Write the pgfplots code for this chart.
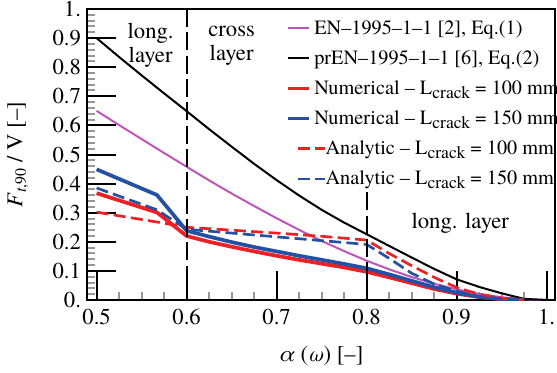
\documentclass[border=0pt]{standalone}
\usepackage{fontspec}
\setmainfont{texgyretermes}[Extension=.otf, UprightFont=*-regular, ItalicFont=*-italic, BoldFont=*-bold, BoldItalicFont=*-bolditalic, Ligatures=TeX]
\usepackage{pgfplots}
\pgfplotsset{compat=1.18}

\definecolor{numred}{RGB}{237,32,36}
\definecolor{numblue}{RGB}{36,80,165}
\definecolor{enmag}{RGB}{190,85,185}
\definecolor{tickgray}{RGB}{150,150,150}

\newcommand{\Lc}{L\raisebox{-0.45ex}{\fontsize{13.2}{13.2}\selectfont crack}}

% legend sample for the dashed series, set a little to the right
\pgfplotsset{dashleg/.style={legend image code/.code={\draw[##1, overlay] (0.26cm,0cm) -- (0.98cm,0cm);}}}

\begin{document}
\begin{tikzpicture}
\begin{axis}[
  scale only axis,
  width=351pt, height=218.25pt,
  xmin=0.4893, xmax=1.0093,
  ymin=0, ymax=1,
  axis line style={black, line width=1.6pt},
  xtick={0.5,0.6,0.7,0.8,0.9,1.0},
  xticklabels={0.5,0.6,0.7,0.8,0.9,1.},
  ytick={0,0.1,0.2,0.3,0.4,0.5,0.6,0.7,0.8,0.9,1.0},
  yticklabels={0.,0.1,0.2,0.3,0.4,0.5,0.6,0.7,0.8,0.9,1.},
  minor x tick num=3, minor y tick num=4,
  tick align=inside,
  xtick pos=left, ytick pos=left,
  major tick length=21.5pt,
  minor tick length=6pt,
  major tick style={black, line width=1.5pt},
  minor tick style={tickgray, line width=1.5pt},
  /pgf/number format/assume math mode=true,
  tick label style={font=\fontsize{17}{17}\selectfont},
  xticklabel style={yshift=-3pt},
  yticklabel style={xshift=-1pt},
  xlabel={\textit{α} (\textit{ω}) [--]},
  ylabel={\textit{F}\textsubscript{\textit{t},90} / V [--]},
  label style={font=\fontsize{17}{17}\selectfont},
  xlabel style={at={(axis description cs:0.5,0)}, anchor=center, yshift=-42pt},
  ylabel style={at={(axis description cs:0,0.5)}, anchor=center, rotate=0, yshift=52pt},
  legend cell align=left,
  legend style={at={(axis cs:0.7105,0.972)}, anchor=north west, draw=none, fill=none,
    font=\fontsize{15.2}{15.2}\selectfont, row sep=6.7pt, inner sep=0pt,
    nodes={inner xsep=2.5pt}},
  legend image code/.code={\draw[#1] (0cm,0cm) -- (0.55cm,0cm);},
]

% EN 1995-1-1, Eq.(1)
\addplot[enmag, line width=1.5pt] coordinates {
(0.5,0.650) (0.525,0.601) (0.55,0.553) (0.575,0.505) (0.6,0.458)
(0.625,0.411) (0.65,0.366) (0.675,0.323) (0.7,0.281) (0.725,0.241)
(0.75,0.203) (0.775,0.168) (0.8,0.135) (0.825,0.1055) (0.85,0.079)
(0.875,0.056) (0.9,0.0364) (0.925,0.021) (0.95,0.0094) (0.975,0.0023) (1.0,0)
};
\addlegendentry{EN--1995--1--1 [2], Eq.(1)}

% prEN 1995-1-1, Eq.(2)
\addplot[black, line width=1.5pt] coordinates {
(0.5,0.900) (0.525,0.835) (0.55,0.772) (0.575,0.710) (0.6,0.649)
(0.625,0.587) (0.65,0.527) (0.675,0.468) (0.7,0.412) (0.725,0.359)
(0.75,0.310) (0.775,0.266) (0.8,0.226) (0.825,0.186) (0.85,0.146)
(0.875,0.107) (0.9,0.071) (0.925,0.045) (0.95,0.023) (0.975,0.004) (1.0,0)
};
\addlegendentry{prEN--1995--1--1 [6], Eq.(2)}

% Numerical, L_crack = 100 mm
\addplot[numred, line width=2.8pt] coordinates {
(0.5,0.367) (0.567,0.301) (0.6,0.220) (0.625,0.200) (0.65,0.183)
(0.675,0.167) (0.7,0.152) (0.725,0.138) (0.75,0.125) (0.775,0.112)
(0.8,0.097) (0.825,0.078) (0.85,0.058) (0.875,0.038) (0.9,0.022)
(0.925,0.010) (0.95,0.003) (0.975,0)
};
\addlegendentry{Numerical -- \Lc{} = 100 mm}

% Numerical, L_crack = 150 mm
\addplot[numblue, line width=2.8pt] coordinates {
(0.5,0.449) (0.567,0.361) (0.6,0.238) (0.625,0.218) (0.65,0.199)
(0.675,0.182) (0.7,0.167) (0.725,0.152) (0.75,0.138) (0.775,0.124)
(0.8,0.109) (0.825,0.088) (0.85,0.066) (0.875,0.044) (0.9,0.025)
(0.925,0.011) (0.95,0.003) (0.975,0)
};
\addlegendentry{Numerical -- \Lc{} = 150 mm}

% Analytic, L_crack = 100 mm
\addplot[numred, line width=2pt, dash pattern=on 9pt off 4pt, dashleg] coordinates {
(0.5,0.302) (0.567,0.268) (0.6,0.250) (0.65,0.240) (0.7,0.230)
(0.75,0.219) (0.8,0.206) (0.825,0.160) (0.85,0.118) (0.875,0.078)
(0.9,0.043) (0.925,0.020) (0.95,0.006) (0.975,0)
};
\addlegendentry{\hspace{8.5pt}Analytic -- \Lc{} = 100 mm}

% Analytic, L_crack = 150 mm
\addplot[numblue, line width=2pt, dash pattern=on 9pt off 4pt, dashleg] coordinates {
(0.5,0.385) (0.567,0.310) (0.6,0.243) (0.65,0.230) (0.7,0.217)
(0.75,0.204) (0.8,0.191) (0.825,0.143) (0.85,0.092) (0.875,0.055)
(0.9,0.030) (0.925,0.012) (0.95,0.003) (0.975,0)
};
\addlegendentry{\hspace{8.5pt}Analytic -- \Lc{} = 150 mm}

% layer boundaries
\addplot[forget plot, black, line width=1.6pt, dash pattern=on 13.5pt off 4pt]
  coordinates {(0.6,1) (0.6,0)};
\addplot[forget plot, black, line width=1.6pt, dash pattern=on 13.5pt off 4pt]
  coordinates {(0.8,0.37) (0.8,0)};

\node[align=center, font=\fontsize{17}{18}\selectfont] at (axis cs:0.560,0.875) {long.\\layer};
\node[align=center, font=\fontsize{17}{18}\selectfont] at (axis cs:0.650,0.875) {cross\\layer};
\node[font=\fontsize{17}{18}\selectfont] at (axis cs:0.904,0.265) {long. layer};

\coordinate (bl) at (rel axis cs:0,0);
\coordinate (tr) at (rel axis cs:1,1);
\end{axis}
\pgfresetboundingbox
\useasboundingbox ([shift={(-65.25pt,-54pt)}]bl) rectangle ([shift={(1.5pt,6.75pt)}]tr);
\end{tikzpicture}
\end{document}
